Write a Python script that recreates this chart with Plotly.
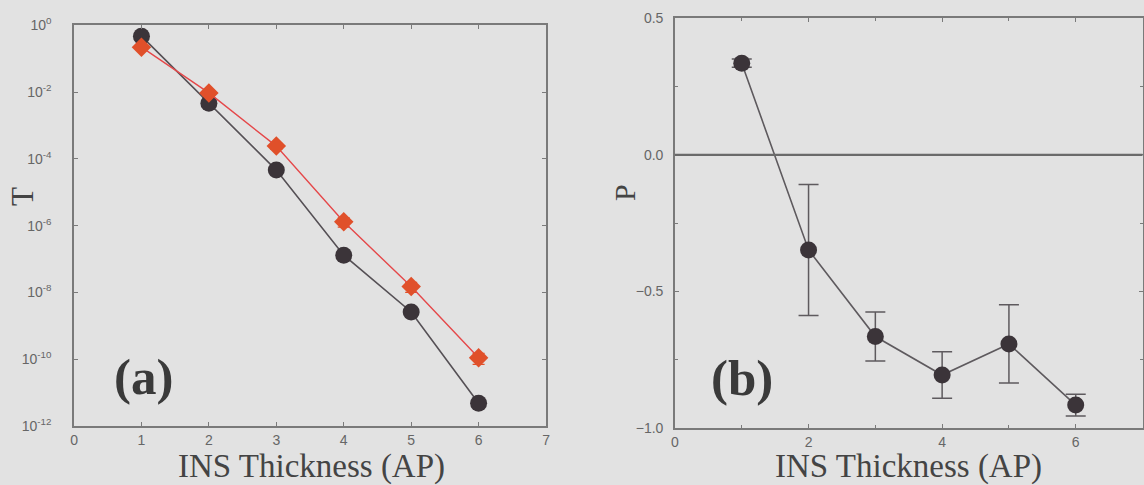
import plotly.graph_objects as go

# ---------------- data ----------------
thickness = [1, 2, 3, 4, 5, 6]

# panel (a): transmission T (log scale)
T_black = [0.47, 4.6e-3, 4.6e-5, 1.3e-7, 2.6e-9, 4.8e-12]
T_black_err = [0.05, 5e-4, 6e-6, 2e-8, 4e-10, 1.0e-12]
T_red = [0.22, 9.4e-3, 2.4e-4, 1.3e-6, 1.5e-8, 1.1e-10]
T_red_err = [0.03, 2.0e-3, 5e-5, 4e-7, 5e-9, 4e-11]

# panel (b): polarization P
P_vals = [0.336, -0.348, -0.665, -0.806, -0.692, -0.916]
P_err = [0.015, 0.24, 0.09, 0.085, 0.143, 0.04]

a_yticks = [1e0, 1e-2, 1e-4, 1e-6, 1e-8, 1e-10, 1e-12]
a_yticklabels = ["10<sup>0</sup>", "10<sup>-2</sup>", "10<sup>-4</sup>", "10<sup>-6</sup>",
                 "10<sup>-8</sup>", "10<sup>-10</sup>", "10<sup>-12</sup>"]
a_xticks = [0, 1, 2, 3, 4, 5, 6, 7]
b_xticks = [0, 2, 4, 6]
b_yticks = [0.5, 0.0, -0.5, -1.0]
b_yticklabels = ["0.5", "0.0", "\u22120.5", "\u22121.0"]

# ---------------- styles ----------------
BG = "#e2e2e2"
AX = "#7a7a7a"
DARK = "#3b3439"
RED = "#e0502a"
REDLINE = "#e5484a"
tickfont = dict(family="Liberation Sans, Arial, sans-serif", size=14, color="#666666")
serif = "Liberation Serif, Times New Roman, serif"

fig = go.Figure()

# panel (a)
fig.add_trace(go.Scatter(
    x=thickness, y=T_black, mode="lines+markers", xaxis="x", yaxis="y",
    line=dict(color="#555055", width=1.6),
    marker=dict(symbol="circle", size=17, color=DARK),
    error_y=dict(type="data", array=T_black_err, color=DARK, thickness=1.2, width=5),
    showlegend=False))
fig.add_trace(go.Scatter(
    x=thickness, y=T_red, mode="lines+markers", xaxis="x", yaxis="y",
    line=dict(color=REDLINE, width=1.4),
    marker=dict(symbol="diamond", size=15, color=RED),
    error_y=dict(type="data", array=T_red_err, color=RED, thickness=1.2, width=6),
    showlegend=False))

# panel (b)
fig.add_trace(go.Scatter(
    x=thickness, y=P_vals, mode="lines+markers", xaxis="x2", yaxis="y2",
    line=dict(color="#5e5a5e", width=1.6),
    marker=dict(symbol="circle", size=17, color=DARK),
    error_y=dict(type="data", array=P_err, color="#5e5a5e", thickness=1.5, width=10),
    showlegend=False))

common_axis = dict(showline=True, linecolor=AX, linewidth=1.5, mirror="ticks",
                   ticks="inside", ticklen=4, tickcolor=AX, showgrid=False,
                   zeroline=False, tickfont=tickfont, automargin=False)

fig.update_layout(
    width=1144, height=485,
    margin=dict(l=0, r=0, t=0, b=0, pad=0),
    paper_bgcolor=BG, plot_bgcolor=BG,
    xaxis=dict(domain=[0.0647, 0.4773], range=[0, 7], tickvals=a_xticks,
               anchor="y", ticklabelstandoff=0, **common_axis),
    yaxis=dict(domain=[0.1216, 0.948], type="log", range=[-12, 0],
               tickvals=a_yticks, ticktext=a_yticklabels, anchor="x",
               ticklabelstandoff=18, **common_axis),
    xaxis2=dict(domain=[0.590, 0.9987], range=[0, 7], tickvals=b_xticks,
                anchor="y2", ticklabelstandoff=0,
                minor=dict(ticks="inside", ticklen=3, tickcolor=AX, dtick=1),
                **common_axis),
    yaxis2=dict(domain=[0.1175, 0.962], range=[-1.0, 0.5], tickvals=b_yticks,
                ticktext=b_yticklabels, anchor="x2", ticklabelstandoff=7,
                minor=dict(ticks="inside", ticklen=3, tickcolor=AX, dtick=0.25),
                **common_axis),
)

# zero line in panel (b)
fig.add_shape(type="line", xref="x2 domain", yref="y2", x0=0, x1=1, y0=0, y1=0,
              line=dict(color="#6a6a6a", width=2.2))

# titles / labels as annotations
for cx in (311, 908):
    fig.add_annotation(text="INS Thickness (AP)", xref="paper", yref="paper",
                       x=cx / 1144, y=1 - 466 / 485, showarrow=False,
                       xanchor="center", yanchor="middle",
                       font=dict(family=serif, size=33, color="#444444"))
fig.add_annotation(text="T", xref="paper", yref="paper", x=22 / 1144, y=1 - 197 / 485,
                   showarrow=False, textangle=-90, xanchor="center", yanchor="middle",
                   font=dict(family=serif, size=31, color="#444444"))
fig.add_annotation(text="P", xref="paper", yref="paper", x=625 / 1144, y=1 - 193 / 485,
                   showarrow=False, textangle=-90, xanchor="center", yanchor="middle",
                   font=dict(family=serif, size=30, color="#444444"))
fig.add_annotation(text="<b>(a)</b>", xref="paper", yref="paper", x=143 / 1144, y=1 - 377 / 485,
                   showarrow=False, xanchor="center", yanchor="middle",
                   font=dict(family=serif, size=51, color="#3a3a3a"))
fig.add_annotation(text="<b>(b)</b>", xref="paper", yref="paper", x=742 / 1144, y=1 - 378 / 485,
                   showarrow=False, xanchor="center", yanchor="middle",
                   font=dict(family=serif, size=51, color="#3a3a3a"))

fig.write_html("out.html", config={"displayModeBar": False},
               post_script="document.body.style.margin='0px';document.body.style.overflow='hidden';")
